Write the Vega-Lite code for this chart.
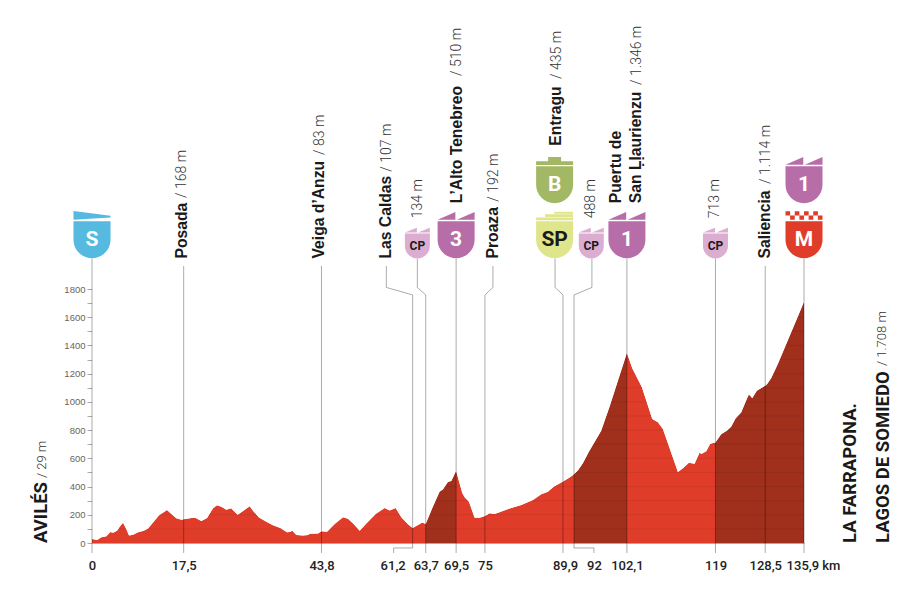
{"$schema":"https://vega.github.io/schema/vega-lite/v6.json","width":712,"height":254,"autosize":{"type":"none"},"padding":{"left":92,"top":289,"right":102,"bottom":52},"background":"white","config":{"view":{"stroke":null}},"resolve":{"axis":{"x":"independent","y":"independent"}},
"datasets":{
"profile":[{"km":0,"elev":29,"climb":0},{"km":0.96,"elev":21,"climb":0},{"km":1.79,"elev":40,"climb":0},{"km":2.75,"elev":47,"climb":0},{"km":3.51,"elev":78,"climb":0},{"km":4.02,"elev":73,"climb":0},{"km":4.78,"elev":87,"climb":0},{"km":5.29,"elev":116,"climb":0},{"km":5.93,"elev":144,"climb":0},{"km":6.56,"elev":97,"climb":0},{"km":7.07,"elev":54,"climb":0},{"km":7.83,"elev":59,"climb":0},{"km":8.79,"elev":76,"climb":0},{"km":9.87,"elev":87,"climb":0},{"km":10.7,"elev":102,"climb":0},{"km":11.65,"elev":146,"climb":0},{"km":12.8,"elev":196,"climb":0},{"km":14.32,"elev":234,"climb":0},{"km":15.15,"elev":205,"climb":0},{"km":16.1,"elev":175,"climb":0},{"km":17.06,"elev":165,"climb":0},{"km":17.5,"elev":168,"climb":0},{"km":18.97,"elev":177,"climb":0},{"km":19.79,"elev":177,"climb":0},{"km":20.87,"elev":156,"climb":0},{"km":21.96,"elev":177,"climb":0},{"km":23.1,"elev":246,"climb":0},{"km":23.86,"elev":267,"climb":0},{"km":24.69,"elev":257,"climb":0},{"km":25.65,"elev":236,"climb":0},{"km":26.54,"elev":246,"climb":0},{"km":27.81,"elev":201,"climb":0},{"km":28.83,"elev":227,"climb":0},{"km":30.1,"elev":260,"climb":0},{"km":30.73,"elev":229,"climb":0},{"km":31.88,"elev":180,"climb":0},{"km":33.28,"elev":151,"climb":0},{"km":34.55,"elev":125,"climb":0},{"km":35.95,"elev":106,"climb":0},{"km":37.22,"elev":76,"climb":0},{"km":37.73,"elev":78,"climb":0},{"km":38.24,"elev":87,"climb":0},{"km":39,"elev":57,"climb":0},{"km":40.28,"elev":54,"climb":0},{"km":41.23,"elev":57,"climb":0},{"km":41.55,"elev":66,"climb":0},{"km":43.14,"elev":68,"climb":0},{"km":43.8,"elev":83,"climb":0},{"km":44.86,"elev":80,"climb":0},{"km":46.32,"elev":135,"climb":0},{"km":47.91,"elev":182,"climb":0},{"km":48.86,"elev":172,"climb":0},{"km":49.94,"elev":135,"climb":0},{"km":51.09,"elev":87,"climb":0},{"km":52.36,"elev":139,"climb":0},{"km":54.14,"elev":205,"climb":0},{"km":55.86,"elev":248,"climb":0},{"km":56.81,"elev":231,"climb":0},{"km":57.96,"elev":248,"climb":0},{"km":59.04,"elev":182,"climb":0},{"km":60.31,"elev":132,"climb":0},{"km":61.2,"elev":107,"climb":0},{"km":62.22,"elev":128,"climb":0},{"km":63.05,"elev":146,"climb":0},{"km":63.7,"elev":134,"climb":1},{"km":65.07,"elev":257,"climb":1},{"km":66.35,"elev":364,"climb":1},{"km":66.98,"elev":380,"climb":1},{"km":67.94,"elev":432,"climb":1},{"km":68.59,"elev":439,"climb":1},{"km":69.5,"elev":510,"climb":1},{"km":70.69,"elev":352,"climb":0},{"km":71.13,"elev":324,"climb":0},{"km":71.95,"elev":293,"climb":0},{"km":73.03,"elev":179,"climb":0},{"km":73.99,"elev":179,"climb":0},{"km":75,"elev":192,"climb":0},{"km":75.9,"elev":210,"climb":0},{"km":76.85,"elev":205,"climb":0},{"km":79.71,"elev":245,"climb":0},{"km":81.94,"elev":269,"climb":0},{"km":84.16,"elev":305,"climb":0},{"km":85.75,"elev":345,"climb":0},{"km":87.02,"elev":364,"climb":0},{"km":88.11,"elev":399,"climb":0},{"km":89.9,"elev":435,"climb":0},{"km":91.16,"elev":465,"climb":0},{"km":92,"elev":488,"climb":2},{"km":92.75,"elev":513,"climb":2},{"km":93.7,"elev":565,"climb":2},{"km":94.85,"elev":647,"climb":2},{"km":97.2,"elev":796,"climb":2},{"km":98.79,"elev":966,"climb":2},{"km":102.1,"elev":1346,"climb":2},{"km":103.12,"elev":1238,"climb":0},{"km":104.96,"elev":1103,"climb":0},{"km":106.94,"elev":879,"climb":0},{"km":108.02,"elev":855,"climb":0},{"km":108.97,"elev":808,"climb":0},{"km":111.83,"elev":503,"climb":0},{"km":112.79,"elev":529,"climb":0},{"km":113.93,"elev":569,"climb":0},{"km":115.01,"elev":562,"climb":0},{"km":115.97,"elev":642,"climb":0},{"km":116.29,"elev":631,"climb":0},{"km":117.24,"elev":650,"climb":0},{"km":118,"elev":704,"climb":0},{"km":119,"elev":713,"climb":3},{"km":120.1,"elev":770,"climb":3},{"km":121.18,"elev":796,"climb":3},{"km":122.01,"elev":824,"climb":3},{"km":122.84,"elev":883,"climb":3},{"km":123.92,"elev":924,"climb":3},{"km":124.75,"elev":999,"climb":3},{"km":125.38,"elev":1053,"climb":3},{"km":126.02,"elev":1025,"climb":3},{"km":126.91,"elev":1079,"climb":3},{"km":128.5,"elev":1114,"climb":3},{"km":128.88,"elev":1127,"climb":3},{"km":129.64,"elev":1167,"climb":3},{"km":130.92,"elev":1268,"climb":3},{"km":135.9,"elev":1708,"climb":3}],
"levels":[{"level":100},{"level":200},{"level":300},{"level":400},{"level":500},{"level":600},{"level":700},{"level":800},{"level":900},{"level":1000},{"level":1100},{"level":1200},{"level":1300},{"level":1400},{"level":1500},{"level":1600},{"level":1700}],
"stems":[{"km":0,"top":2016},{"km":17.5,"top":1963},{"km":43.8,"top":1963},{"km":69.5,"top":2016},{"km":102.1,"top":2016},{"km":119,"top":2016},{"km":128.5,"top":1963},{"km":135.9,"top":2016}],
"leaders":[{"id":"Las Caldas","seq":1,"km":56.18,"alt":1963},{"id":"Las Caldas","seq":2,"km":56.18,"alt":1811},{"id":"Las Caldas","seq":3,"km":61.2,"alt":1758},{"id":"Las Caldas","seq":4,"km":61.2,"alt":-35},{"id":"Las Caldas","seq":5,"km":57.58,"alt":-35},{"id":"Las Caldas","seq":6,"km":57.58,"alt":-71},
{"id":"CP134","seq":1,"km":62.1,"alt":2016},{"id":"CP134","seq":2,"km":62.1,"alt":1811},{"id":"CP134","seq":3,"km":63.7,"alt":1758},{"id":"CP134","seq":4,"km":63.7,"alt":-71},
{"id":"Proaza","seq":1,"km":76.53,"alt":1963},{"id":"Proaza","seq":2,"km":76.53,"alt":1811},{"id":"Proaza","seq":3,"km":75,"alt":1758},{"id":"Proaza","seq":4,"km":75,"alt":-71},
{"id":"SP","seq":1,"km":88.38,"alt":2016},{"id":"SP","seq":2,"km":88.38,"alt":1811},{"id":"SP","seq":3,"km":89.9,"alt":1758},{"id":"SP","seq":4,"km":89.9,"alt":-71},
{"id":"CP488","seq":1,"km":95.42,"alt":2016},{"id":"CP488","seq":2,"km":95.42,"alt":1811},{"id":"CP488","seq":3,"km":92,"alt":1758},{"id":"CP488","seq":4,"km":92,"alt":-35},{"id":"CP488","seq":5,"km":95.8,"alt":-35},{"id":"CP488","seq":6,"km":95.8,"alt":-71}],
"badges":[{"km":0,"alt":2149,"kind":"flag","tag":"S","ink":"light"},{"km":69.5,"alt":2149,"kind":"climb","tag":"3","ink":"light"},{"km":88.3,"alt":2149,"kind":"sprint","tag":"SP","ink":"dark"},{"km":88.3,"alt":2539,"kind":"bonus","tag":"B","ink":"light"},{"km":102.1,"alt":2149,"kind":"climb","tag":"1","ink":"light"},{"km":135.9,"alt":2539,"kind":"climb","tag":"1","ink":"light"},{"km":135.9,"alt":2149,"kind":"finish","tag":"M","ink":"light"}],
"cps":[{"km":62.1,"alt":2105,"kind":"cp","tag":"CP"},{"km":95.3,"alt":2105,"kind":"cp","tag":"CP"},{"km":119,"alt":2105,"kind":"cp","tag":"CP"}],
"names":[{"km":17.1,"alt":2016,"text":"Posada"},{"km":43.4,"alt":2016,"text":"Veiga d’Anzu"},{"km":56.2,"alt":2016,"text":"Las Caldas"},{"km":69.6,"alt":2408,"text":"L’Alto Tenebreo"},{"km":76.5,"alt":2016,"text":"Proaza"},{"km":88.5,"alt":2816,"text":"Entragu"},{"km":100,"alt":2408,"text":"Puertu de"},{"km":103.85,"alt":2408,"text":"San Ḷḷaurienzu"},{"km":128.4,"alt":2016,"text":"Saliencia"}],
"heights":[{"km":17.2,"alt":2445,"text":"/ 168 m"},{"km":43.5,"alt":2750,"text":"/ 83 m"},{"km":56.4,"alt":2631,"text":"/ 107 m"},{"km":62.2,"alt":2301,"text":"134 m"},{"km":69.7,"alt":3310,"text":"/ 510 m"},{"km":76.7,"alt":2419,"text":"/ 192 m"},{"km":88.7,"alt":3288,"text":"/ 435 m"},{"km":95.3,"alt":2301,"text":"488 m"},{"km":104.1,"alt":3246,"text":"/ 1.346 m"},{"km":119,"alt":2301,"text":"713 m"},{"km":128.6,"alt":2544,"text":"/ 1.114 m"}],
"ends":[{"km":-9.75,"alt":0,"text":"AVILÉS"},{"km":144.6,"alt":0,"text":"LA FARRAPONA."},{"km":150.9,"alt":0,"text":"LAGOS DE SOMIEDO"}],
"endHeights":[{"km":-9.6,"alt":460,"text":"/ 29 m"},{"km":150.8,"alt":1254,"text":"/ 1.708 m"}]
},
"data":{"name":"profile"},
"layer":[
{"mark":{"type":"area","color":"#e03c2a"},"encoding":{"x":{"field":"km","type":"quantitative","scale":{"domain":[0,135.9],"nice":false},"title":null,"axis":{"values":[0,17.5,43.8,61.2,63.7,69.5,75,89.9,92,102.1,119,128.5,135.9],"format":".1~f","labelExpr":"datum.value==135.9 ? '135,9 km' : replace(datum.label,'.',',')","labelOffset":{"condition":[{"test":"datum.value==61.2","value":-20},{"test":"datum.value==92","value":20},{"test":"datum.value==135.9","value":9},{"test":"datum.value==89.9","value":2}],"value":0},"labelOverlap":false,"labelBound":false,"labelFlush":false,"labelFont":"Roboto","labelFontWeight":500,"labelFontSize":13,"labelColor":"#222","labelPadding":16,"ticks":false,"domain":true,"domainColor":"#aaa","domainWidth":1,"grid":false}},"y":{"field":"elev","type":"quantitative","stack":null,"scale":{"domain":[0,1800],"nice":false},"title":null,"axis":{"values":[0,100,200,300,400,500,600,700,800,900,1000,1100,1200,1300,1400,1500,1600,1700,1800],"format":"d","labelExpr":"datum.value%200==0 ? datum.label : ''","labelOverlap":false,"labelFont":"Liberation Sans","labelFontSize":9.5,"labelColor":"#666","labelPadding":2,"tickSize":5,"tickColor":"#aaa","domain":false,"grid":false}}}},
{"transform":[{"filter":"datum.climb>0"}],"mark":{"type":"area","color":"#a02f1c"},"encoding":{"x":{"field":"km","type":"quantitative","axis":null},"y":{"field":"elev","type":"quantitative","stack":null,"axis":null},"detail":{"field":"climb"}}},
{"data":{"name":"levels"},"mark":{"type":"rule","color":"#000","opacity":0.07,"strokeWidth":1},"encoding":{"y":{"field":"level","type":"quantitative","axis":null},"x":{"datum":0,"type":"quantitative","axis":null},"x2":{"datum":135.9}}},
{"mark":{"type":"area","color":"white"},"encoding":{"x":{"field":"km","type":"quantitative","axis":null},"y":{"field":"elev","type":"quantitative","stack":null,"axis":null},"y2":{"datum":1800}}},
{"data":{"name":"stems"},"mark":{"type":"rule","color":"#000","opacity":0.33,"strokeWidth":1},"encoding":{"x":{"field":"km","type":"quantitative","axis":null},"y":{"field":"top","type":"quantitative","axis":null},"y2":{"datum":-71}}},
{"data":{"name":"leaders"},"mark":{"type":"line","color":"#000","opacity":0.33,"strokeWidth":1},"encoding":{"x":{"field":"km","type":"quantitative","axis":null},"y":{"field":"alt","type":"quantitative","axis":null},"detail":{"field":"id"},"order":{"field":"seq"}}},
{"data":{"name":"badges"},"mark":{"type":"point","filled":true,"opacity":1,"size":1369},"encoding":{"x":{"field":"km","type":"quantitative","axis":null},"y":{"field":"alt","type":"quantitative","axis":null},"shape":{"field":"kind","type":"nominal","legend":null,"scale":{"domain":["flag","climb","bonus","sprint","finish","cp"],"range":["M-1,-1H1V0C1,0.55 0.55,1 0,1C-0.55,1 -1,0.55 -1,0Z M-1,-1.55L1,-1.3V-1.2L-1,-1.08Z","M-1,-1H1V0C1,0.55 0.55,1 0,1C-0.55,1 -1,0.55 -1,0Z M-1,-1.08L-0.04,-1.5V-1.08Z M0.04,-1.08L1,-1.5V-1.08Z","M-1,-1H1V0C1,0.55 0.55,1 0,1C-0.55,1 -1,0.55 -1,0Z M-1,-1.06V-1.27H-0.35V-1.5H0.35V-1.27H1V-1.06Z","M-1,-1H1V0C1,0.55 0.55,1 0,1C-0.55,1 -1,0.55 -1,0Z M-0.02,-1.52H1V-1.41H-0.02Z M-0.52,-1.38H1V-1.23H-0.52Z M-1,-1.2H1V-1.05H-1Z","M-1,-1H1V0C1,0.55 0.55,1 0,1C-0.55,1 -1,0.55 -1,0Z M-1,-1.54h0.25v0.23h-0.25Z M-0.5,-1.54h0.25v0.23h-0.25Z M0,-1.54h0.25v0.23h-0.25Z M0.5,-1.54h0.25v0.23h-0.25Z M-0.75,-1.31h0.25v0.23h-0.25Z M-0.25,-1.31h0.25v0.23h-0.25Z M0.25,-1.31h0.25v0.23h-0.25Z M0.75,-1.31h0.25v0.23h-0.25Z","M-1,-1H1V0C1,0.55 0.55,1 0,1C-0.55,1 -1,0.55 -1,0Z M-1,-1.08L-0.04,-1.45V-1.08Z M0.04,-1.08L1,-1.45V-1.08Z"]}},"color":{"field":"kind","type":"nominal","legend":null,"scale":{"domain":["flag","climb","bonus","sprint","finish","cp"],"range":["#55b9e0","#b76ea8","#a2b865","#dfe58a","#e03c2a","#dcadd0"]}}}},
{"data":{"name":"cps"},"mark":{"type":"point","filled":true,"opacity":1,"size":625},"encoding":{"x":{"field":"km","type":"quantitative","axis":null},"y":{"field":"alt","type":"quantitative","axis":null},"shape":{"field":"kind","type":"nominal","legend":null},"color":{"field":"kind","type":"nominal","legend":null}}},
{"data":{"name":"badges"},"transform":[{"filter":"datum.ink=='light'"}],"mark":{"type":"text","font":"Roboto","fontWeight":"bold","fontSize":21,"color":"white","baseline":"middle"},"encoding":{"x":{"field":"km","type":"quantitative","axis":null},"y":{"field":"alt","type":"quantitative","axis":null},"text":{"field":"tag"}}},
{"data":{"name":"badges"},"transform":[{"filter":"datum.ink=='dark'"}],"mark":{"type":"text","font":"Roboto","fontWeight":"bold","fontSize":21,"color":"#1a1a1a","baseline":"middle"},"encoding":{"x":{"field":"km","type":"quantitative","axis":null},"y":{"field":"alt","type":"quantitative","axis":null},"text":{"field":"tag"}}},
{"data":{"name":"cps"},"mark":{"type":"text","font":"Roboto","fontWeight":"bold","fontSize":12,"color":"#1a1a1a","baseline":"middle"},"encoding":{"x":{"field":"km","type":"quantitative","axis":null},"y":{"field":"alt","type":"quantitative","axis":null},"text":{"field":"tag"}}},
{"data":{"name":"names"},"mark":{"type":"text","font":"Liberation Sans","fontWeight":"bold","fontSize":15.7,"color":"#1a1a1a","angle":270,"align":"left","baseline":"middle"},"encoding":{"x":{"field":"km","type":"quantitative","axis":null},"y":{"field":"alt","type":"quantitative","axis":null},"text":{"field":"text"}}},
{"data":{"name":"heights"},"mark":{"type":"text","font":"Roboto","fontWeight":300,"fontSize":14,"color":"#333","angle":270,"align":"left","baseline":"middle"},"encoding":{"x":{"field":"km","type":"quantitative","axis":null},"y":{"field":"alt","type":"quantitative","axis":null},"text":{"field":"text"}}},
{"data":{"name":"ends"},"mark":{"type":"text","font":"Roboto","fontWeight":"bold","fontSize":18.5,"color":"#1a1a1a","angle":270,"align":"left","baseline":"middle"},"encoding":{"x":{"field":"km","type":"quantitative","axis":null},"y":{"field":"alt","type":"quantitative","axis":null},"text":{"field":"text"}}},
{"data":{"name":"endHeights"},"mark":{"type":"text","font":"Roboto","fontWeight":300,"fontSize":13,"color":"#333","angle":270,"align":"left","baseline":"middle"},"encoding":{"x":{"field":"km","type":"quantitative","axis":null},"y":{"field":"alt","type":"quantitative","axis":null},"text":{"field":"text"}}}
]}
